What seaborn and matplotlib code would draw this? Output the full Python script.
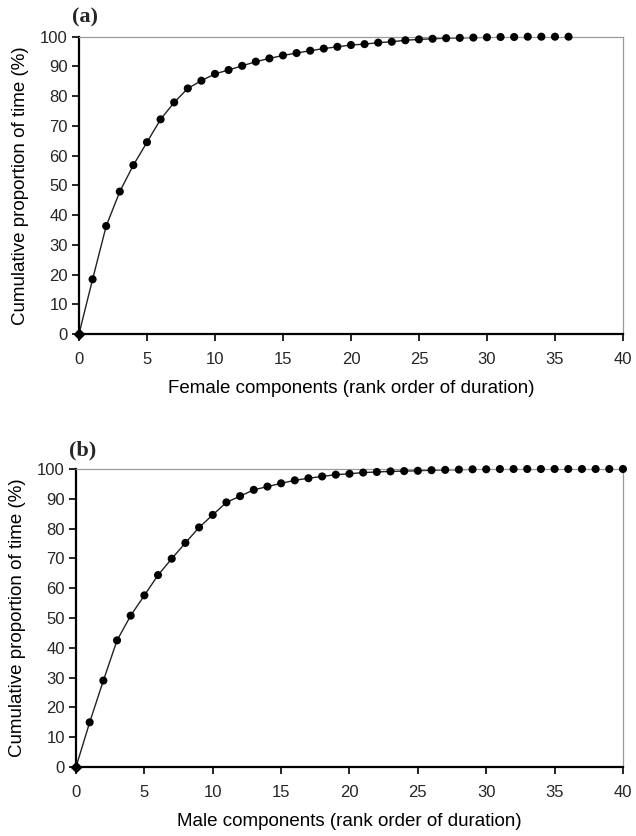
import numpy as np
import pandas as pd
import matplotlib
matplotlib.use("Agg")
import matplotlib.pyplot as plt
import seaborn as sns

# rank order (x) and cumulative % of time (y)
female_rank = list(range(0, 37))
female_cum = [0, 18.4, 36.3, 47.9, 56.8, 64.5, 72.2, 77.9, 82.6, 85.2,
              87.5, 88.8, 90.2, 91.6, 92.7, 93.7, 94.5, 95.3, 96.0, 96.6,
              97.2, 97.5, 98.0, 98.3, 98.8, 99.1, 99.3, 99.5, 99.6, 99.7,
              99.8, 99.9, 99.9, 100, 100, 100, 100]

male_rank = list(range(0, 41))
male_cum = [0, 15.0, 29.0, 42.5, 50.8, 57.6, 64.4, 69.9, 75.2, 80.4,
            84.6, 88.8, 90.9, 93.0, 94.1, 95.2, 96.2, 96.9, 97.5, 98.1,
            98.4, 98.8, 99.0, 99.2, 99.3, 99.4, 99.6, 99.7, 99.8, 99.9,
            99.9, 100, 100, 100, 100, 100, 100, 100, 100, 100, 100]

x_ticks = [0, 5, 10, 15, 20, 25, 30, 35, 40]
y_ticks = [0, 10, 20, 30, 40, 50, 60, 70, 80, 90, 100]

panels = [
    ("(a)", female_rank, female_cum, "Female components (rank order of duration)"),
    ("(b)", male_rank, male_cum, "Male components (rank order of duration)"),
]

sns.set_theme(style="white")
plt.rcParams['font.family'] = ['Liberation Sans', 'DejaVu Sans']

fig = plt.figure(figsize=(6.36, 8.36), dpi=100)
# axes boxes in figure fractions
boxes = [[0.1242, 0.6005, 0.8553, 0.3556],
         [0.1195, 0.0825, 0.8600, 0.3565]]

for (tag, xs, ys, xlabel), box in zip(panels, boxes):
    ax = fig.add_axes(box)
    df = pd.DataFrame({"rank": xs, "cum": ys})
    sns.lineplot(data=df, x="rank", y="cum", ax=ax, color="#222222",
                 linewidth=1.0, zorder=2)
    sns.scatterplot(data=df.iloc[1:], x="rank", y="cum", ax=ax,
                    color="black", s=34, edgecolor="none", zorder=3,
                    clip_on=False)
    ax.plot(df["rank"].iloc[:1], df["cum"].iloc[:1], marker="D",
            color="black", markersize=5.5, linestyle="none", zorder=4,
            clip_on=False)

    ax.set_xlim(0, 40)
    ax.set_ylim(0, 100)
    ax.set_xticks(x_ticks)
    ax.set_yticks(y_ticks)
    ax.tick_params(axis="both", direction="out", length=5, width=1.2,
                   color="black", labelsize=12, left=True, bottom=True)
    ax.tick_params(axis="x", pad=8)
    ax.tick_params(axis="y", pad=3)

    for side in ("left", "bottom"):
        ax.spines[side].set_color("black")
        ax.spines[side].set_linewidth(1.6)
    for side in ("top", "right"):
        ax.spines[side].set_color("#9a9a9a")
        ax.spines[side].set_linewidth(0.9)

    ax.set_xlabel(xlabel, fontsize=13.5, labelpad=9, color="black")
    ax.set_ylabel("Cumulative proportion of time (%)", fontsize=13.5,
                  labelpad=8, color="black")
    ax.text(-0.012, 1.03, tag, transform=ax.transAxes, fontsize=16,
            fontweight="bold", family="Liberation Serif", ha="left",
            va="bottom")

fig.savefig("out.png", dpi=100, facecolor="white")
